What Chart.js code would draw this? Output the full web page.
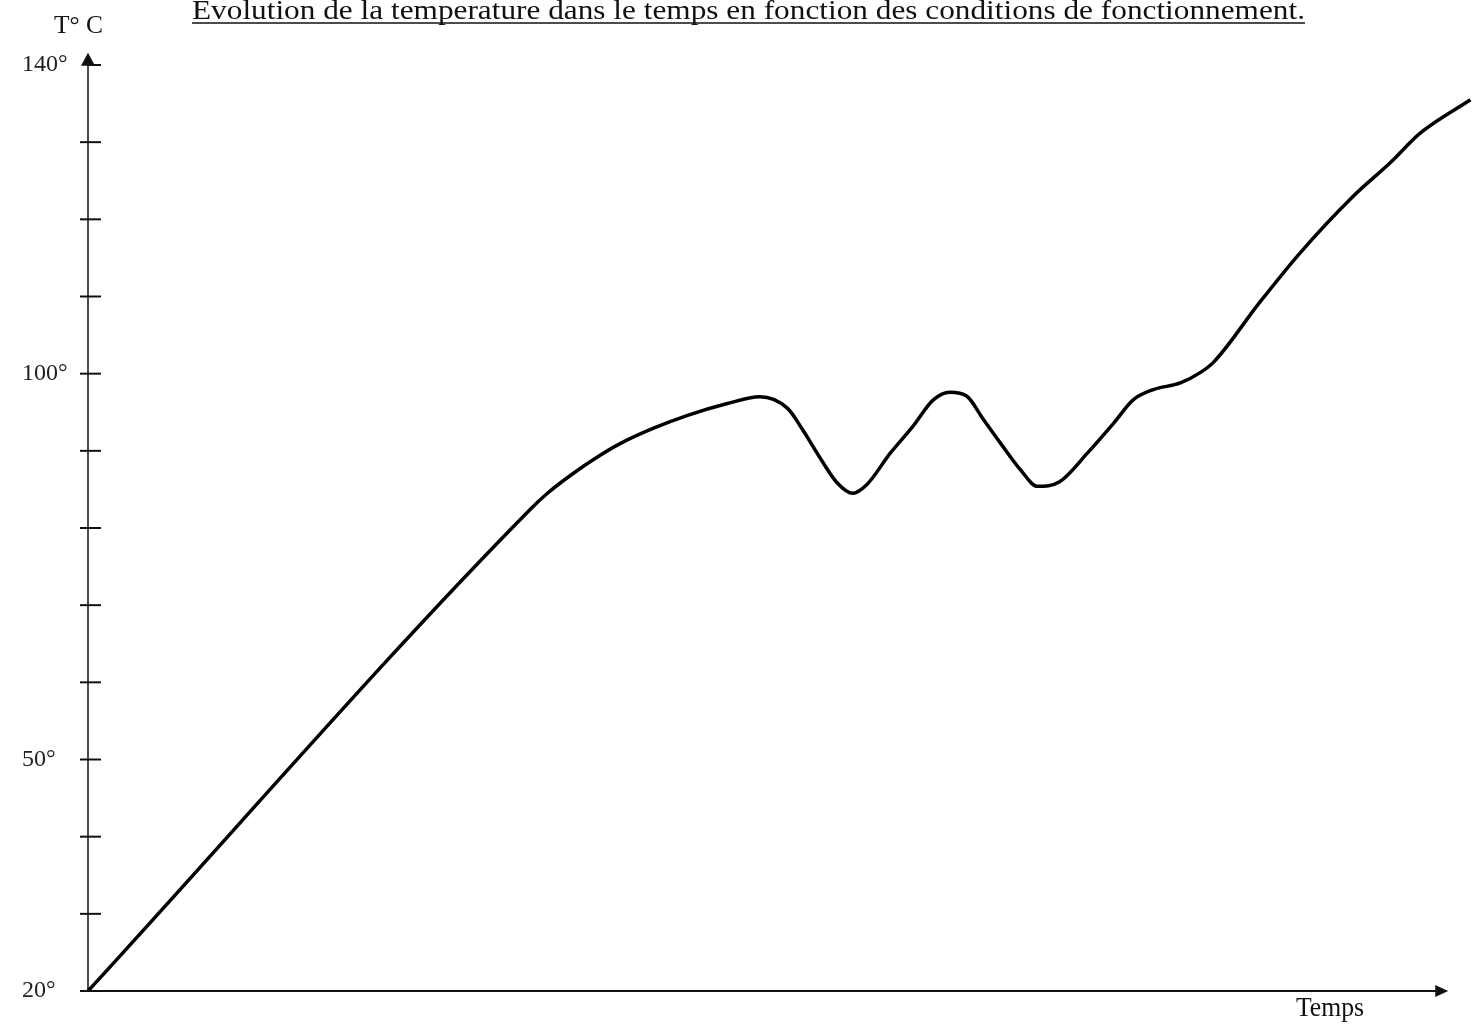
<!DOCTYPE html>
<html>
<head>
<meta charset="utf-8">
<script src="https://cdn.jsdelivr.net/npm/chart.js@4.4.1/dist/chart.umd.min.js"></script>
<style>
  html, body { margin: 0; padding: 0; background: #fff; }
  #wrap { width: 1476px; height: 1030px; position: relative; }
</style>
</head>
<body>
<div id="wrap"><canvas id="tempChart"></canvas></div>
<script>
// data (time in arbitrary units, temperature in °C)
let timeValues = [0, 31.8, 33.1, 34.9, 36.7, 38.3, 40.7, 43.2, 46.0, 48.4, 50.4, 51.5, 52.7, 54.0, 55.1, 56.1, 57.8, 59.4, 60.9, 62.1, 63.3, 64.5, 65.7, 67.2, 68.4, 70.0, 72.0, 73.9, 75.3, 76.7, 78.7, 80.1, 81.1, 84.4, 87.3, 91.1, 93.8, 96.0, 99.6]
let tempValues = [20, 82.3, 84.5, 87.0, 89.2, 90.9, 92.9, 94.6, 96.1, 97.0, 95.5, 92.7, 89.2, 85.8, 84.5, 85.6, 89.7, 93.1, 96.6, 97.6, 97.1, 94.1, 91.1, 87.5, 85.4, 86.0, 89.7, 93.6, 96.6, 97.9, 98.8, 100.1, 101.5, 109.2, 115.6, 122.9, 127.3, 131.2, 135.5]
let labeledTicks = [140, 100, 50, 20]

let titleText = "Evolution de la temperature dans le temps en fonction des conditions de fonctionnement."
let yAxisTitle = "T° C"
let xAxisTitle = "Temps"

let points = []
for (let i = 0; i < timeValues.length; i++) {
    points.push({ x: timeValues[i], y: tempValues[i] })
}

const SERIF = "'Liberation Serif', 'DejaVu Serif', serif"

// text squeezed to a given width, like the scanned original
function fitText(ctx, str, left, baseline, size, width) {
    ctx.save()
    ctx.font = size + "px " + SERIF
    ctx.fillStyle = "#111"
    ctx.textBaseline = "alphabetic"
    ctx.textAlign = "left"
    let w = ctx.measureText(str).width
    ctx.translate(left, baseline)
    ctx.scale(width / w, 1)
    ctx.fillText(str, 0, 0)
    ctx.restore()
}

const axesPlugin = {
    id: 'axesPlugin',
    afterDraw(chart) {
        let ctx = chart.ctx
        let xs = chart.scales.x
        let ys = chart.scales.y
        let x0 = xs.getPixelForValue(0)
        let y0 = ys.getPixelForValue(20)
        let yTop = ys.getPixelForValue(141.6)
        let xEnd = xs.getPixelForValue(98)

        ctx.save()
        ctx.strokeStyle = "#111"
        ctx.fillStyle = "#111"

        // vertical axis
        ctx.lineWidth = 1.5
        ctx.beginPath()
        ctx.moveTo(x0, y0)
        ctx.lineTo(x0, yTop + 6)
        ctx.stroke()
        ctx.beginPath()
        ctx.moveTo(x0, yTop)
        ctx.lineTo(x0 - 7, yTop + 13)
        ctx.lineTo(x0 + 7, yTop + 13)
        ctx.closePath()
        ctx.fill()

        // tick marks every 10 degrees
        ctx.lineWidth = 2
        ys.ticks.forEach(function (t) {
            let py = ys.getPixelForValue(t.value)
            ctx.beginPath()
            ctx.moveTo(t.value == 140 ? x0 : x0 - 8, py)
            ctx.lineTo(x0 + 13, py)
            ctx.stroke()
        })

        // horizontal axis
        ctx.lineWidth = 2
        ctx.beginPath()
        ctx.moveTo(x0 - 8, y0)
        ctx.lineTo(xEnd - 6, y0)
        ctx.stroke()
        ctx.beginPath()
        ctx.moveTo(xEnd, y0)
        ctx.lineTo(xEnd - 13, y0 - 6)
        ctx.lineTo(xEnd - 13, y0 + 6)
        ctx.closePath()
        ctx.fill()
        ctx.restore()

        // texts
        fitText(ctx, yAxisTitle, 54, 33, 26, 49)
        fitText(ctx, xAxisTitle, 1296, 1016, 28, 68)
        fitText(ctx, titleText, 192, 19, 28, 1113)

        // underline of the title
        ctx.save()
        ctx.strokeStyle = "#111"
        ctx.lineWidth = 1.5
        ctx.beginPath()
        ctx.moveTo(192, 23)
        ctx.lineTo(1305, 23)
        ctx.stroke()
        ctx.restore()
    }
}

let ctx1 = document.getElementById("tempChart").getContext('2d')
var tempChart = new Chart(ctx1, {
    type: 'line',
    data: {
        datasets: [{
            label: 'Température',
            data: points,
            borderColor: "#000",
            borderWidth: 3.5,
            pointRadius: 0,
            fill: false,
            cubicInterpolationMode: 'monotone',
            clip: false
        }]
    },
    options: {
        responsive: true,
        maintainAspectRatio: false,
        animation: false,
        layout: {
            padding: { top: 65, bottom: 39, left: 22, right: 0 }
        },
        plugins: {
            legend: { display: false },
            title: { display: false },
            tooltip: { enabled: false }
        },
        scales: {
            x: {
                type: 'linear',
                min: 0,
                max: 100,
                display: false
            },
            y: {
                type: 'linear',
                min: 20,
                max: 140,
                grid: { display: false },
                border: { display: false },
                afterFit: function (scale) { scale.width = 66 },
                ticks: {
                    stepSize: 10,
                    autoSkip: false,
                    crossAlign: 'far',
                    color: "#222",
                    font: { family: SERIF, size: 24 },
                    callback: function (value) {
                        return labeledTicks.indexOf(value) >= 0 ? value + "°" : ""
                    }
                }
            }
        }
    },
    plugins: [axesPlugin]
})
</script>
</body>
</html>
